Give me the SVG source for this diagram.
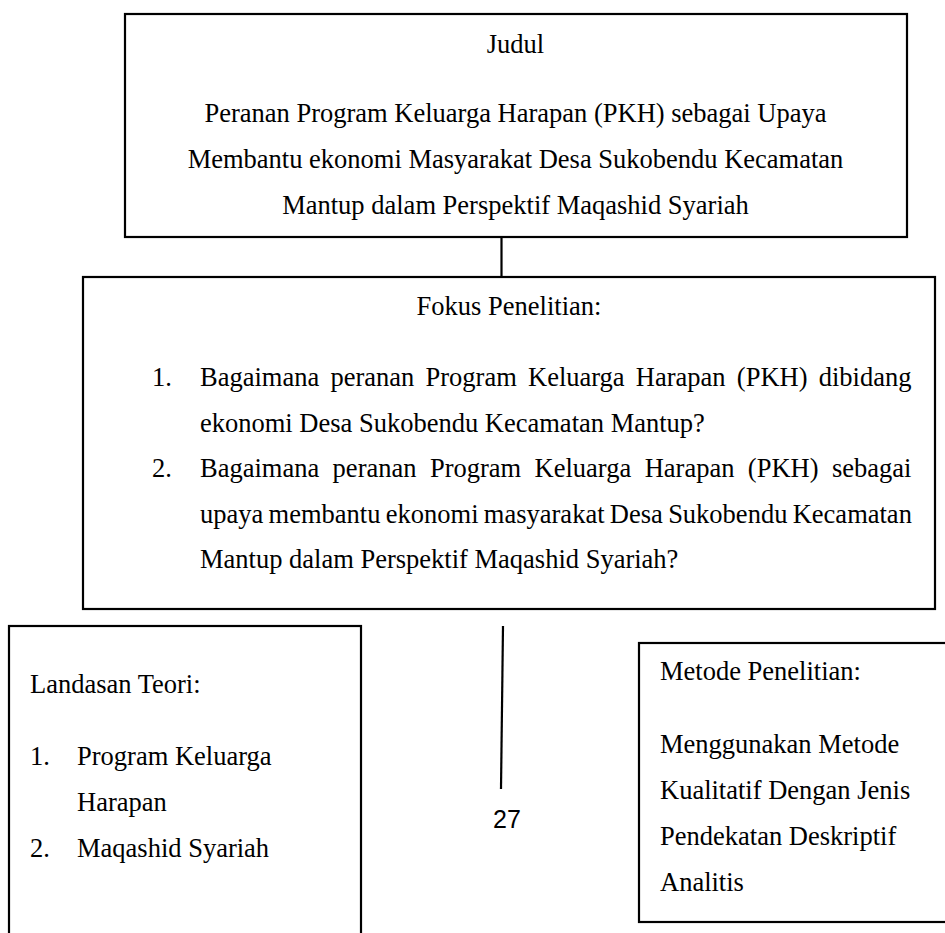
<svg xmlns="http://www.w3.org/2000/svg" width="945" height="933" viewBox="0 0 945 933">
<style>
.box{fill:#fff;stroke:#000;stroke-width:2.2}
.t{font-family:"Liberation Serif","Times New Roman",serif;font-size:26.5px;fill:#000}
.c{text-anchor:middle}
.ln{stroke:#000;stroke-width:2.2;fill:none}
.pg{font-family:"Liberation Sans",Arial,sans-serif;font-size:25px;fill:#000;text-anchor:middle}
</style>
<rect width="945" height="933" fill="#fff"/>
<g id="connectors">
<line class="ln" x1="501.5" y1="237" x2="501.5" y2="277"/>
<line class="ln" x1="503" y1="626" x2="501" y2="789"/>
</g>
<g id="judul">
<rect class="box" x="125" y="14" width="782" height="223"/>
<text class="t c" x="515.5" y="53">Judul</text>
<text class="t c" x="515.5" y="122">Peranan Program Keluarga Harapan (PKH) sebagai Upaya</text>
<text class="t c" x="515.5" y="168">Membantu ekonomi Masyarakat Desa Sukobendu Kecamatan</text>
<text class="t c" x="515.5" y="214">Mantup dalam Perspektif Maqashid Syariah</text>
</g>
<g id="fokus">
<rect class="box" x="83" y="277" width="852" height="332"/>
<text class="t c" x="509" y="315">Fokus Penelitian:</text>
<text class="t" x="152" y="386">1.</text>
<text class="t" x="200" y="386" style="word-spacing:4.6px">Bagaimana peranan Program Keluarga Harapan (PKH) dibidang</text>
<text class="t" x="200" y="431.5">ekonomi Desa Sukobendu Kecamatan Mantup?</text>
<text class="t" x="152" y="477">2.</text>
<text class="t" x="200" y="477" style="word-spacing:6.8px">Bagaimana peranan Program Keluarga Harapan (PKH) sebagai</text>
<text class="t" x="200" y="522.5" style="word-spacing:-1.3px">upaya membantu ekonomi masyarakat Desa Sukobendu Kecamatan</text>
<text class="t" x="200" y="568">Mantup dalam Perspektif Maqashid Syariah?</text>
</g>
<g id="landasan">
<rect class="box" x="9" y="626" width="352" height="320"/>
<text class="t" x="30" y="693">Landasan Teori:</text>
<text class="t" x="30" y="765">1.</text>
<text class="t" x="77" y="765">Program Keluarga</text>
<text class="t" x="77" y="811">Harapan</text>
<text class="t" x="30" y="857">2.</text>
<text class="t" x="77" y="857">Maqashid Syariah</text>
</g>
<g id="metode">
<rect class="box" x="639" y="643" width="320" height="279"/>
<text class="t" x="660" y="680">Metode Penelitian:</text>
<text class="t" x="660" y="753">Menggunakan Metode</text>
<text class="t" x="660" y="799">Kualitatif Dengan Jenis</text>
<text class="t" x="660" y="845">Pendekatan Deskriptif</text>
<text class="t" x="660" y="891">Analitis</text>
</g>
<text class="pg" x="507" y="828">27</text>
</svg>
